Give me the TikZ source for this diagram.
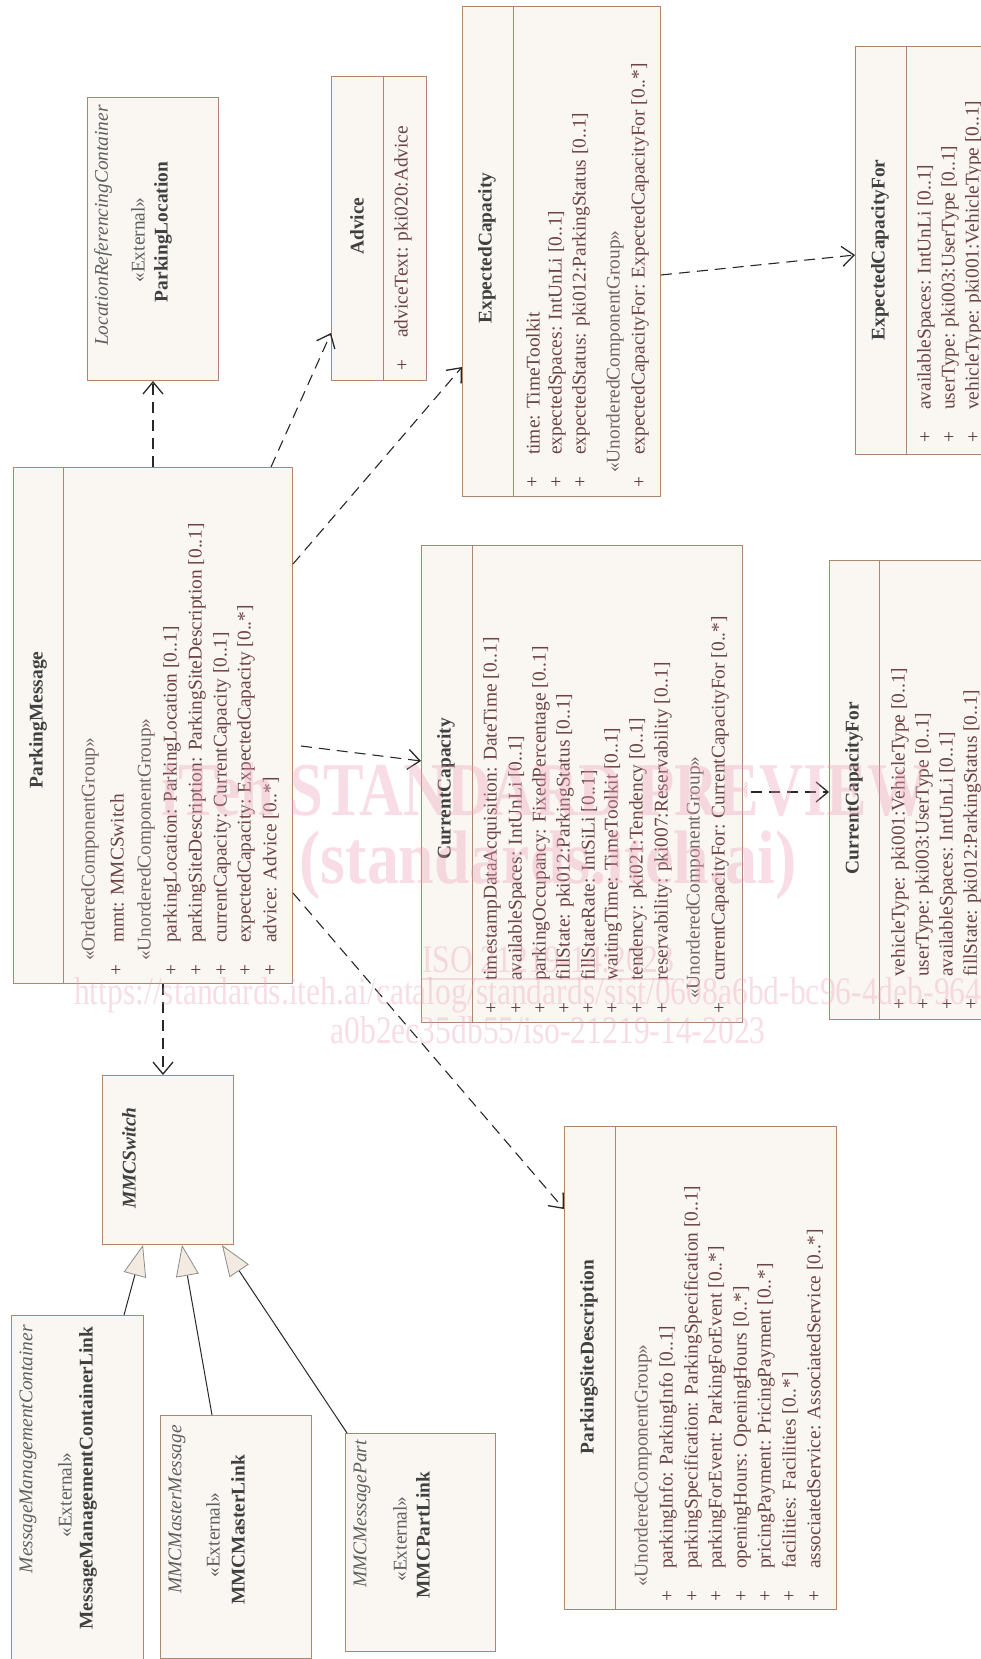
\documentclass[tikz,border=0pt]{standalone}
\usepackage{fontspec}
\setmainfont{Liberation Serif}
\usetikzlibrary{arrows.meta,calc}
\definecolor{boxfill}{RGB}{250,247,243}
\definecolor{boxdraw}{RGB}{172,135,110}
\definecolor{titlecol}{RGB}{64,64,64}
\definecolor{attrcol}{RGB}{108,68,68}
\definecolor{hdrcol}{RGB}{118,100,100}
\definecolor{pluscol}{RGB}{90,60,60}
\definecolor{nscol}{RGB}{95,95,95}
\definecolor{linecol}{RGB}{40,40,40}
\definecolor{genfill}{RGB}{243,234,226}
\definecolor{gendraw}{RGB}{140,140,140}
\definecolor{wmcol}{RGB}{236,160,185}
\newcommand\fs{\fontsize{19.4}{23}\selectfont}
\newcommand\wmA{\fontsize{76}{80}\selectfont\bfseries}
\newcommand\wmB{\fontsize{39}{42}\selectfont}
\newcommand\ubox[5]{\node[umlbox,anchor=north west,minimum width={#4-#2},minimum height={#5-#3}] (#1) at (#2,#3) {};}
\newcommand\udiv[2]{\draw[divline] ($(#1.north west)+(#2,0)$) -- ($(#1.south west)+(#2,0)$);}
\newcommand\mem[4]{\node[plussign] (#1p) at (#2,#3) {+};\node[attr] (#1) at (#2,{#3-27}) {#4};}
\newcommand\grp[4]{\node[hdr] (#1) at (#2,{#3-9}) {#4};}
\tikzset{
  umlbox/.style={draw=boxdraw,fill=boxfill,line width=1pt,rectangle,inner sep=0pt},
  divline/.style={draw=boxdraw,line width=1pt},
  attr/.style={rotate=90,anchor=west,inner sep=0pt,text=attrcol,font=\fs},
  hdr/.style={rotate=90,anchor=west,inner sep=0pt,text=hdrcol,font=\fs},
  plussign/.style={rotate=90,inner sep=0pt,text=pluscol,font=\fs},
  clsname/.style={rotate=90,inner sep=0pt,text=titlecol,font=\fs\bfseries},
  nsname/.style={rotate=90,anchor=east,inner sep=0pt,text=nscol,font=\fs\itshape},
  extname/.style={rotate=90,inner sep=0pt,text=nscol,font=\fs},
  dep/.style={draw=linecol,line width=1.1pt,dash pattern=on 11pt off 7pt,
    -{Straight Barb[length=12pt,width=20pt,line width=1.3pt]}},
  gen/.style={draw=linecol,line width=1pt,
    -{Triangle[length=31pt,width=23pt,fill=genfill,color=gendraw,line width=0.8pt]}},
  wm/.style={inner sep=0pt,text=wmcol,text opacity=0.35}
}
\begin{document}
\begin{tikzpicture}[x=1pt,y=-1pt]
\useasboundingbox (0,0) rectangle (981,1659);
\clip (0,0) rectangle (981,1659);
\fill[white] (0,0) rectangle (981,1659);

% ParkingMessage
\ubox{pm}{13}{467}{292}{983}\udiv{pm}{50}
\node[clsname] (pmt) at (38,720) {ParkingMessage};
\grp{pmg1}{90}{970}{«OrderedComponentGroup»}
\mem{pm1}{117}{970}{mmt: MMCSwitch}
\grp{pmg2}{146}{970}{«UnorderedComponentGroup»}
\mem{pm2}{172}{970}{parkingLocation: ParkingLocation [0..1]}
\mem{pm3}{197}{970}{parkingSiteDescription: ParkingSiteDescription [0..1]}
\mem{pm4}{222}{970}{currentCapacity: CurrentCapacity [0..1]}
\mem{pm5}{246}{970}{expectedCapacity: ExpectedCapacity [0..*]}
\mem{pm6}{271}{970}{advice: Advice [0..*]}

% ParkingLocation (external)
\ubox{lrc}{87}{97}{218}{380}
\node[nsname] (lrcn) at (103,105) {LocationReferencingContainer};
\node[extname] (lrce) at (138,240) {«External»};
\node[clsname] (lrct) at (163,232) {ParkingLocation};

% Advice
\ubox{adv}{331}{76}{426}{380}\udiv{adv}{52}
\node[clsname] (advt) at (357,226) {Advice};
\mem{adv1}{403}{365}{adviceText: pki020:Advice}

% ExpectedCapacity
\ubox{ec}{462}{6}{660}{496}\udiv{ec}{51}
\node[clsname] (ect) at (487,248) {ExpectedCapacity};
\mem{ec1}{533}{482}{time: TimeToolkit}
\mem{ec2}{557}{482}{expectedSpaces: IntUnLi [0..1]}
\mem{ec3}{581}{482}{expectedStatus: pki012:ParkingStatus [0..1]}
\grp{ecg}{615}{482}{«UnorderedComponentGroup»}
\mem{ec4}{640}{482}{expectedCapacityFor: ExpectedCapacityFor [0..*]}

% ExpectedCapacityFor
\ubox{ecf}{855}{46}{1100}{454}\udiv{ecf}{51}
\node[clsname] (ecft) at (880,250) {ExpectedCapacityFor};
\mem{ecf1}{926}{437}{availableSpaces: IntUnLi [0..1]}
\mem{ecf2}{950}{437}{userType: pki003:UserType [0..1]}
\mem{ecf3}{974}{437}{vehicleType: pki001:VehicleType [0..1]}

% CurrentCapacity
\ubox{cc}{421}{545}{742}{1022}\udiv{cc}{51}
\node[clsname] (cct) at (446,789) {CurrentCapacity};
\mem{cc1}{492}{1008}{timestampDataAcquisition: DateTime [0..1]}
\mem{cc2}{517}{1008}{availableSpaces: IntUnLi [0..1]}
\mem{cc3}{541}{1008}{parkingOccupancy: FixedPercentage [0..1]}
\mem{cc4}{565}{1008}{fillState: pki012:ParkingStatus [0..1]}
\mem{cc5}{589}{1008}{fillStateRate: IntSiLi [0..1]}
\mem{cc6}{613}{1008}{waitingTime: TimeToolkit [0..1]}
\mem{cc7}{638}{1008}{tendency: pki021:Tendency [0..1]}
\mem{cc8}{663}{1008}{reservability: pki007:Reservability [0..1]}
\grp{ccg}{695}{1008}{«UnorderedComponentGroup»}
\mem{cc9}{720}{1008}{currentCapacityFor: CurrentCapacityFor [0..*]}

% CurrentCapacityFor
\ubox{ccf}{829}{560}{1100}{1019}\udiv{ccf}{50}
\node[clsname] (ccft) at (854,788) {CurrentCapacityFor};
\mem{ccf1}{900}{1004}{vehicleType: pki001:VehicleType [0..1]}
\mem{ccf2}{924}{1004}{userType: pki003:UserType [0..1]}
\mem{ccf3}{948}{1004}{availableSpaces: IntUnLi [0..1]}
\mem{ccf4}{972}{1004}{fillState: pki012:ParkingStatus [0..1]}

% ParkingSiteDescription
\ubox{psd}{564}{1126}{836}{1609}\udiv{psd}{51}
\node[clsname] (psdt) at (589,1357) {ParkingSiteDescription};
\grp{psdg}{643}{1596}{«UnorderedComponentGroup»}
\mem{psd1}{668}{1596}{parkingInfo: ParkingInfo [0..1]}
\mem{psd2}{693}{1596}{parkingSpecification: ParkingSpecification [0..1]}
\mem{psd3}{717}{1596}{parkingForEvent: ParkingForEvent [0..*]}
\mem{psd4}{742}{1596}{openingHours: OpeningHours [0..*]}
\mem{psd5}{766}{1596}{pricingPayment: PricingPayment [0..*]}
\mem{psd6}{790}{1596}{facilities: Facilities [0..*]}
\mem{psd7}{815}{1596}{associatedService: AssociatedService [0..*]}

% MMCSwitch
\ubox{mmcs}{102}{1075}{233}{1244}
\node[clsname,font=\fs\bfseries\itshape] (mmcst) at (129,1158) {MMCSwitch};

% external links
\ubox{mmcl}{11}{1315}{143}{1720}
\node[nsname] (mmcln) at (28,1325) {MessageManagementContainer};
\node[extname] (mmcle) at (65,1495) {«External»};
\node[clsname] (mmclt) at (88,1478) {MessageManagementContainerLink};

\ubox{mmcm}{160}{1415}{311}{1658}
\node[nsname] (mmcmn) at (177,1425) {MMCMasterMessage};
\node[extname] (mmcme) at (213,1535) {«External»};
\node[clsname] (mmcmt) at (238,1530) {MMCMasterLink};

\ubox{mmcp}{345}{1433}{495}{1651}
\node[nsname] (mmcpn) at (362,1440) {MMCMessagePart};
\node[extname] (mmcpe) at (400,1539) {«External»};
\node[clsname] (mmcpt) at (423,1535) {MMCPartLink};

% dependencies
\draw[dep] (pm.north -| lrc.south) -- (lrc.south);
\draw[dep] ($(pm.north west)+(258,0)$) -- ($(adv.north west)+(0,257)$);
\draw[dep] ($(pm.north east)+(0,97)$) -- ($(ec.north west)+(0,361)$);
\draw[dep] ($(pm.north east)+(8,279)$) -- ($(cc.north west)+(0,216)$);
\draw[dep] ($(pm.north east)+(0,426)$) -- ($(psd.north west)+(0,83)$);
\draw[dep] ($(pm.south west)+(150,0)$) -- ($(mmcs.north west)+(61,0)$);
\draw[dep] ($(ec.north east)+(0,269)$) -- ($(ecf.north west)+(0,209)$);
\draw[dep] ($(cc.north east)+(8,247)$) -- ($(ccf.north west)+(0,232)$);

% generalizations
\draw[gen] ($(mmcl.north west)+(113,0)$) -- ($(mmcs.south west)+(41,0)$);
\draw[gen] ($(mmcm.north west)+(52,0)$) -- ($(mmcs.south west)+(80,0)$);
\draw[gen] ($(mmcp.north west)+(2,0)$) -- ($(mmcs.south west)+(120,0)$);

% watermark
\node[wm,font=\wmA,xscale=0.8] (wm1) at (545,790) {iTeh STANDARD PREVIEW};
\node[wm,font=\wmA,xscale=0.84] (wm2) at (548,865) {(standards.iteh.ai)};
\node[wm,font=\wmB,xscale=0.81] (wm3) at (548,960) {ISO 21219-14:2023};
\draw[wmcol,draw opacity=0.35,line width=1.6pt] ($(wm3.base west)+(0,6)$) -- ($(wm3.base east)+(0,6)$);
\node[wm,font=\wmB,xscale=0.81,anchor=west] (wm4) at (74,995) {https://standards.iteh.ai/catalog/standards/sist/0608a6bd-bc96-4deb-964};
\node[wm,font=\wmB,xscale=0.81] (wm5) at (548,1030) {a0b2ec35db55/iso-21219-14-2023};
\end{tikzpicture}
\end{document}
